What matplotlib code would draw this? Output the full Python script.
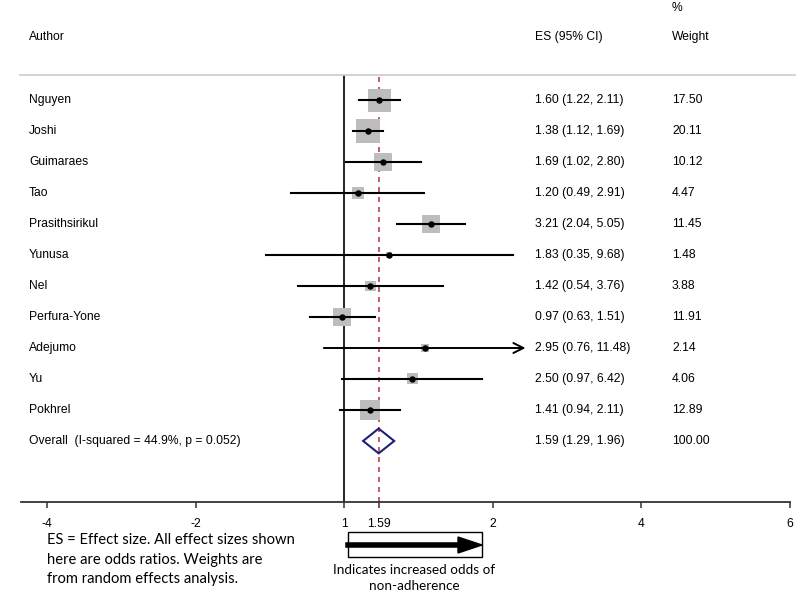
import numpy as np
import matplotlib
matplotlib.use("Agg")
import matplotlib.pyplot as plt
from matplotlib.patches import Polygon, Rectangle
from matplotlib.transforms import blended_transform_factory

plt.rcParams['font.family'] = ['Liberation Sans', 'DejaVu Sans']

# datos del forest plot
authors = ["Nguyen", "Joshi", "Guimaraes", "Tao", "Prasithsirikul", "Yunusa",
           "Nel", "Perfura-Yone", "Adejumo", "Yu", "Pokhrel"]
es = [1.60, 1.38, 1.69, 1.20, 3.21, 1.83, 1.42, 0.97, 2.95, 2.50, 1.41]
lo = [1.22, 1.12, 1.02, 0.49, 2.04, 0.35, 0.54, 0.63, 0.76, 0.97, 0.94]
hi = [2.11, 1.69, 2.80, 2.91, 5.05, 9.68, 3.76, 1.51, 11.48, 6.42, 2.11]
weights = [17.50, 20.11, 10.12, 4.47, 11.45, 1.48, 3.88, 11.91, 2.14, 4.06, 12.89]
arrow_right = [False, False, False, False, False, False, False, False, True, False, False]

overall_label = "Overall  (I-squared = 44.9%, p = 0.052)"
overall_es, overall_lo, overall_hi = 1.59, 1.29, 1.96

tick_pos = [-4, -2, 0, np.log(1.59), 2, 4, 6]
tick_lab = ["-4", "-2", "1", "1.59", "2", "4", "6"]

W, H = 800, 595
fs = 8.7
fig = plt.figure(figsize=(W / 100, H / 100), dpi=100)

# eje principal (escala log natural)
ax = fig.add_axes([21 / W, 1 - 502 / H, (790 - 21) / W, (502 - 75) / H])
ax.set_xlim(-4.35, 6)
ax.set_ylim(12.97, -0.81)
for s in ["top", "right", "left"]:
    ax.spines[s].set_visible(False)
ax.spines["bottom"].set_color("#333333")
ax.spines["bottom"].set_linewidth(1.3)
ax.set_yticks([])
ax.set_xticks(tick_pos)
ax.set_xticklabels(tick_lab, fontsize=fs)
ax.tick_params(axis="x", length=4.5, width=1.1, color="#333333", pad=7)

rows = np.arange(len(authors))
les, llo, lhi = np.log(es), np.log(lo), np.log(hi)

ax.axvline(0, color="black", lw=1.2, zorder=1)
ax.axvline(np.log(overall_es), color="#b8424f", lw=1.2, ls=(0, (3, 3)), zorder=1)

ax.scatter(les, rows, marker="s", s=15.5 * np.array(weights), color="#bdbdbd",
           linewidths=0, zorder=2)
for r, a, b, arr in zip(rows, llo, lhi, arrow_right):
    if arr:
        ax.annotate("", xy=(b, r), xytext=(a, r),
                    arrowprops=dict(arrowstyle="->", lw=1.4, color="black",
                                    mutation_scale=18, shrinkA=0, shrinkB=0),
                    zorder=3)
    else:
        ax.plot([a, b], [r, r], color="black", lw=1.5, zorder=3)
ax.scatter(les, rows, s=13, color="black", zorder=4)

# diamante global
yo = len(authors)
dh = 0.4
diamond = Polygon([[np.log(overall_lo), yo], [np.log(overall_es), yo - dh],
                   [np.log(overall_hi), yo], [np.log(overall_es), yo + dh]],
                  closed=True, fill=False, edgecolor="#1f1f7a", lw=1.5, zorder=5)
ax.add_patch(diamond)

# columnas de texto
tr = blended_transform_factory(fig.transFigure, ax.transData)
labels = authors + [overall_label]
es_txt = [f"{e:.2f} ({a:.2f}, {b:.2f})" for e, a, b in zip(es, lo, hi)]
es_txt.append(f"{overall_es:.2f} ({overall_lo:.2f}, {overall_hi:.2f})")
w_txt = [f"{w:.2f}" for w in weights] + ["100.00"]
for i in range(len(labels)):
    ax.text(29 / W, i, labels[i], transform=tr, fontsize=fs, va="center", clip_on=False)
    ax.text(535 / W, i, es_txt[i], transform=tr, fontsize=fs, va="center", clip_on=False)
    ax.text(672 / W, i, w_txt[i], transform=tr, fontsize=fs, va="center", clip_on=False)

# encabezados
fig.text(29 / W, 1 - 37 / H, "Author", fontsize=fs, va="center")
fig.text(535 / W, 1 - 37 / H, "ES (95% CI)", fontsize=fs, va="center")
fig.text(672 / W, 1 - 8 / H, "%", fontsize=fs, va="center")
fig.text(672 / W, 1 - 37 / H, "Weight", fontsize=fs, va="center")
fig.add_artist(plt.Line2D([20 / W, 795 / W], [1 - 75 / H, 1 - 75 / H],
                          color="#cccccc", lw=1.2))

# nota y flecha inferior
fig.text(47 / W, 1 - 533 / H,
         "ES = Effect size. All effect sizes shown\nhere are odds ratios. Weights are\nfrom random effects analysis.",
         fontsize=10.6, family=["Lato", "DejaVu Sans"], va="top", linespacing=1.52)
fig.add_artist(Rectangle((348 / W, 1 - 557 / H), 134 / W, 25 / H, fill=False,
                         edgecolor="black", lw=1.0, transform=fig.transFigure))
fig.add_artist(plt.Polygon([[458 / W, 1 - 537 / H], [482 / W, 1 - 545 / H], [458 / W, 1 - 553 / H]],
                           closed=True, color="black", transform=fig.transFigure))
fig.add_artist(plt.Line2D([348 / W, 460 / W], [1 - 545 / H, 1 - 545 / H], color="black", lw=4))
fig.text(414 / W, 1 - 578 / H, "Indicates increased odds of\nnon-adherence",
         fontsize=9.7, family=["Lato", "DejaVu Sans"], ha="center", va="center",
         linespacing=1.35)

fig.savefig("out.png", dpi=100)
